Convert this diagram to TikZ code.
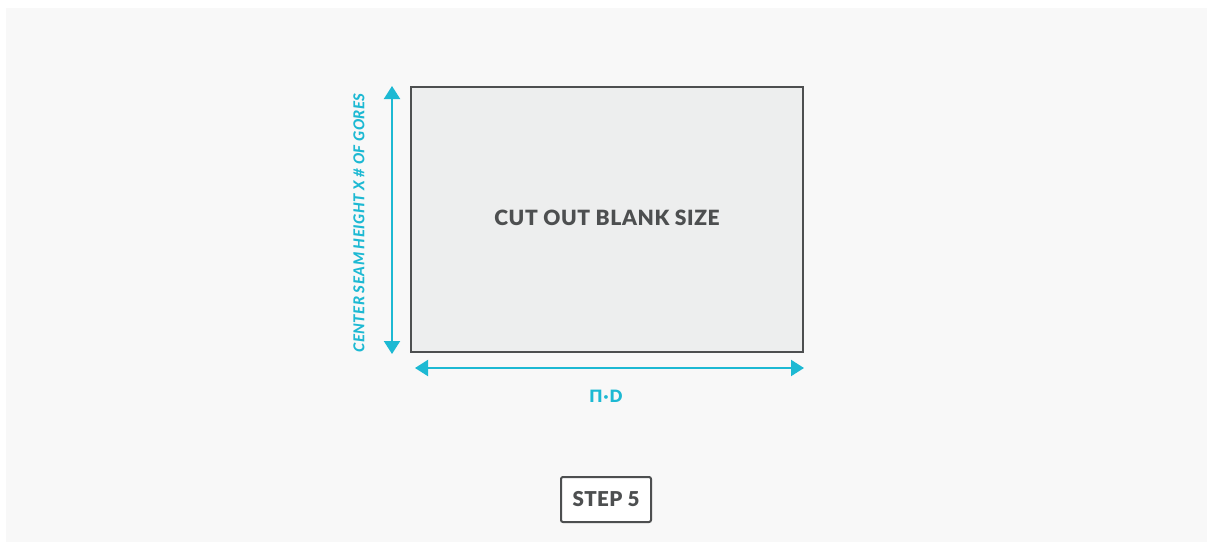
\documentclass[tikz,border=0pt]{standalone}
\usepackage{fontspec}
\setmainfont{Lato}
\newfontfamily\heavyfont{Lato Black}
\usepackage{xcolor}
\usepackage{tikz}
\usetikzlibrary{arrows.meta, positioning}

\definecolor{panelgray}{HTML}{F8F8F8}
\definecolor{blankgray}{HTML}{EDEEEE}
\definecolor{inkgray}{HTML}{4D4F50}
\definecolor{seamcyan}{HTML}{1DB9D3}

\tikzset{
    dimarrow/.style={{Triangle[length=13pt,width=16pt]}-{Triangle[length=13pt,width=16pt]}, seamcyan, line width=2pt},
    dimlabel/.style={seamcyan},
    stepbox/.style={draw=inkgray, line width=2pt, rounded corners=2pt, fill=white, inner sep=0pt, minimum width=90pt, minimum height=45pt, text=inkgray, font=\fontsize{20.5}{22}\selectfont\heavyfont\addfontfeatures{LetterSpace=2}}
}

\begin{document}
\begin{tikzpicture}[x=1pt, y=-1pt]
    \useasboundingbox (0,0) rectangle (1207,542);

    % 1. Nền xám nhạt
    \fill[panelgray] (6,8) rectangle (1207,542);

    % 2. Tấm phôi cần cắt
    \draw[fill=blankgray, draw=inkgray, line width=2pt] (411,87) rectangle (803,352);
    \node[text=inkgray, font=\fontsize{21}{22}\selectfont\heavyfont\addfontfeatures{LetterSpace=3}] (blank) at (607,218) {CUT OUT BLANK SIZE};

    % 3. Mũi tên kích thước dọc và nhãn
    \coordinate (vtop) at (392,86);
    \coordinate (vbot) at (392,354);
    \draw[dimarrow] (vtop) -- (vbot);
    \node[dimlabel, rotate=90, font=\fontsize{15}{16}\selectfont\heavyfont\itshape\addfontfeatures{LetterSpace=3}] (height) at (359,223) {CENTER SEAM HEIGHT X \# OF GORES};

    % 4. Mũi tên kích thước ngang và nhãn
    \coordinate (hleft) at (415,368);
    \coordinate (hright) at (804,368);
    \draw[dimarrow] (hleft) -- (hright);
    \node[dimlabel, font=\fontsize{17}{18}\selectfont\heavyfont\addfontfeatures{LetterSpace=6}] (width) at (606,396) {Π·D};

    % 5. Ô "STEP 5"
    \node[stepbox] (step) at (606,499.5) {STEP 5};
\end{tikzpicture}
\end{document}
